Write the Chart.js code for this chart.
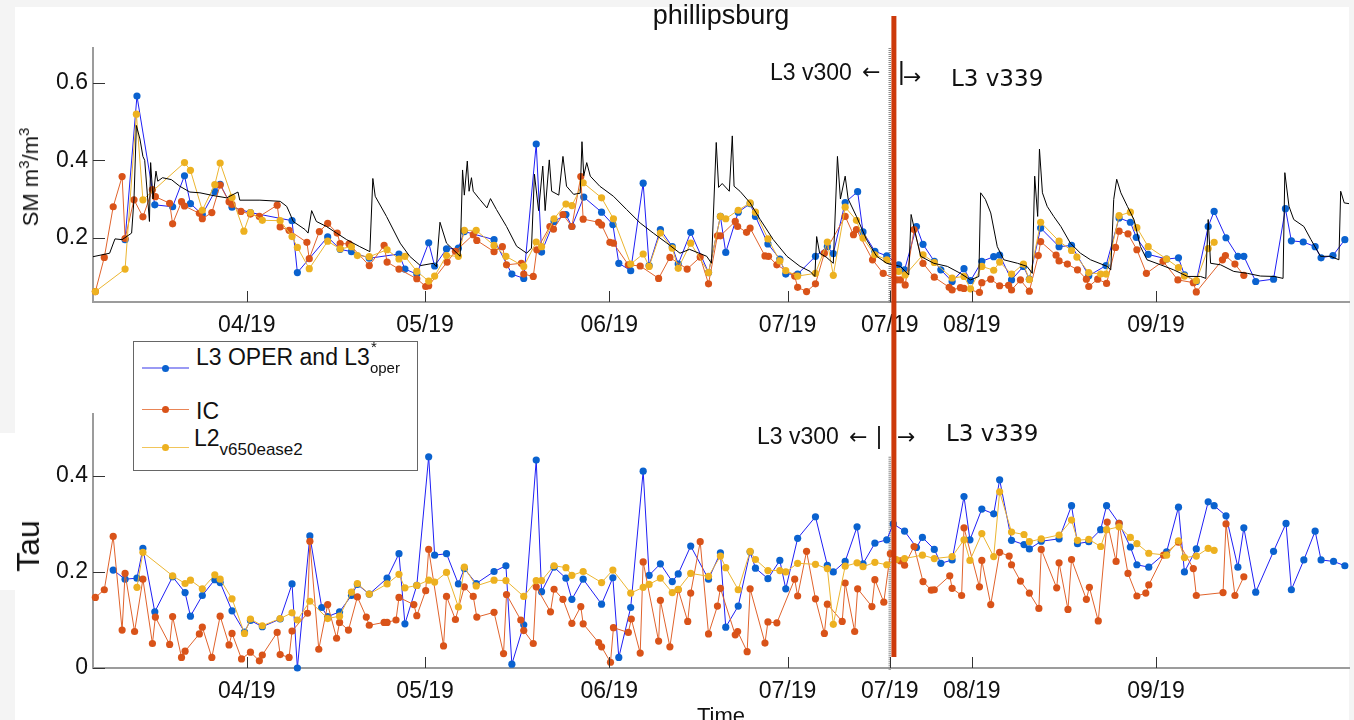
<!DOCTYPE html>
<html>
<head>
<meta charset="utf-8">
<script src="https://cdn.jsdelivr.net/npm/chart.js@4.4.1/dist/chart.umd.min.js"></script>
<style>
  body { margin: 0; background: #f4f4f4; }
  #page { position: relative; width: 1354px; height: 720px; overflow: hidden;
          font-family: "Liberation Sans", Arial, sans-serif; color: #111; }
  .sheet { position: absolute; background: #fff; }
  canvas { position: absolute; left: 0; top: 0; }
  .txt { position: absolute; white-space: nowrap; line-height: 1; }
  .dv { font-family: "DejaVu Sans", sans-serif; }
  .legend-box { position: absolute; left: 133px; top: 341px; width: 285px; height: 130px;
                box-sizing: border-box; border: 1px solid #666; background: #fff; }
  .lg-line { position: absolute; left: 142px; width: 47px; }
  .lg-dot { position: absolute; width: 7px; height: 7px; border-radius: 50%; left: 161.5px; }
</style>
</head>
<body>
<div id="page">
  <div class="sheet" style="left:15px; top:7px; width:1334px; height:713px;"></div>
  <div class="sheet" style="left:0; top:433px; width:15px; height:157px;"></div>

  <canvas id="smChart" width="1354" height="720"></canvas>
  <canvas id="tauChart" width="1354" height="720"></canvas>

  <!-- titles -->
  <div class="txt" style="left:721px; top:2px; font-size:27px; transform:translateX(-50%);">phillipsburg</div>
  <div class="txt" style="left:29px; top:177px; font-size:22px; transform:translate(-50%,-50%) rotate(-90deg);">SM m<span style="font-size:15px; vertical-align:9px;">3</span>/m<span style="font-size:15px; vertical-align:9px;">3</span></div>
  <div class="txt" style="left:28px; top:546px; font-size:32px; transform:translate(-50%,-50%) rotate(-90deg);">Tau</div>
  <div class="txt" style="left:721px; top:705px; font-size:22px; transform:translateX(-50%);">Time</div>

  <!-- version annotations, top panel -->
  <div class="txt" style="left:770px; top:60.5px; font-size:23px;">L3 v300</div>
  <div class="txt dv" style="left:862px; top:61px; font-size:22px;">←</div>
  <div class="txt" style="left:898px; top:58px; font-size:26px;">|</div>
  <div class="txt dv" style="left:903px; top:66px; font-size:22px;">→</div>
  <div class="txt dv" style="left:951px; top:66.5px; font-size:23px;">L3 v339</div>

  <!-- version annotations, bottom panel -->
  <div class="txt" style="left:757px; top:424.5px; font-size:23px;">L3 v300</div>
  <div class="txt dv" style="left:849px; top:426px; font-size:22px;">←</div>
  <div class="txt" style="left:876px; top:425px; font-size:23px;">|</div>
  <div class="txt dv" style="left:897px; top:426px; font-size:22px;">→</div>
  <div class="txt dv" style="left:946px; top:422px; font-size:23px;">L3 v339</div>

  <!-- legend -->
  <div class="legend-box"></div>
  <div class="lg-line" style="top:367px; height:2px; background:#9a9af4;"></div>
  <div class="lg-dot" style="top:364.5px; background:#0a62cf;"></div>
  <div class="txt" style="left:196px; top:345.5px; font-size:23px;">L3 OPER and L3<span style="position:relative; display:inline-block; width:40px;"><span style="position:absolute; left:1px; top:-26px; font-size:15px;">*</span><span style="position:absolute; left:0; top:-5px; font-size:15px;">oper</span></span></div>

  <div class="lg-line" style="top:409px; height:1px; background:#e98556;"></div>
  <div class="lg-dot" style="top:406px; background:#d95319;"></div>
  <div class="txt" style="left:196px; top:399.5px; font-size:23px;">IC</div>

  <div class="lg-line" style="top:447px; height:1px; background:#f1c55a;"></div>
  <div class="lg-dot" style="top:444px; background:#edb120;"></div>
  <div class="txt" style="left:194px; top:426.8px; font-size:23px;">L2<span style="position:relative; display:inline-block; width:95px;"><span style="position:absolute; left:0; top:-4.7px; font-size:17px;">v650ease2</span></span></div>
</div>

<script>
// x values are day of year 2019
const xMin = 65.1;
const xMax = 276.5;
const xTickDays = [91, 121, 152, 182, 199.2, 213, 244];
const xTickLabels = ["04/19", "05/19", "06/19", "07/19", "07/19", "08/19", "09/19"];
const versionSwitchDay = 199.2;
const redLineDay = 199.9;

const smTicks = [0.2, 0.4, 0.6];
const smTickLabels = ["0.2", "0.4", "0.6"];
const tauTicks = [0, 0.2, 0.4];
const tauTickLabels = ["0", "0.2", "0.4"];

// soil moisture, in situ (black)
const smInsitu = [[65.1,0.151],[67.9,0.160],[68.8,0.197],[70.0,0.195],[71.6,0.212],[72.0,0.300],[72.4,0.490],[73.0,0.455],[73.5,0.410],[73.8,0.400],[74.6,0.242],[74.8,0.394],[75.2,0.300],[75.7,0.372],[76.0,0.346],[76.8,0.355],[78.3,0.350],[79.7,0.333],[81.4,0.318],[83.1,0.316],[85.3,0.309],[87.6,0.303],[89.5,0.318],[89.8,0.297],[93.2,0.297],[96.6,0.294],[97.7,0.281],[98.2,0.264],[98.8,0.242],[100.8,0.221],[101.3,0.212],[101.9,0.270],[102.7,0.242],[104.4,0.229],[106.1,0.212],[107.8,0.195],[110.0,0.177],[111.7,0.164],[112.2,0.353],[112.6,0.307],[114.5,0.255],[116.8,0.186],[118.4,0.152],[120.2,0.128],[122.4,0.134],[122.9,0.125],[123.5,0.240],[124.6,0.186],[126.9,0.152],[127.3,0.375],[127.6,0.310],[128.1,0.398],[128.4,0.320],[128.8,0.355],[129.1,0.320],[130.2,0.299],[131.4,0.277],[132.0,0.301],[133.0,0.273],[134.7,0.229],[136.4,0.178],[138.1,0.160],[138.9,0.173],[139.4,0.364],[140.1,0.270],[140.8,0.385],[141.2,0.270],[141.9,0.401],[142.3,0.320],[143.5,0.310],[144.2,0.410],[144.8,0.333],[146.0,0.312],[147.1,0.315],[147.4,0.448],[147.7,0.360],[148.2,0.394],[148.8,0.359],[150.4,0.333],[152.7,0.307],[154.9,0.273],[157.2,0.238],[159.4,0.212],[161.7,0.186],[163.9,0.160],[165.5,0.170],[168.4,0.152],[169.2,0.134],[170.0,0.446],[170.4,0.330],[171.0,0.340],[172.2,0.320],[172.7,0.463],[173.0,0.333],[174.0,0.320],[175.7,0.290],[177.4,0.247],[179.6,0.195],[181.9,0.152],[184.1,0.126],[185.8,0.113],[186.6,0.100],[186.9,0.203],[187.4,0.160],[188.5,0.150],[189.7,0.134],[190.4,0.410],[190.9,0.300],[191.7,0.359],[192.2,0.300],[193.6,0.255],[195.3,0.195],[197.0,0.152],[198.7,0.134],[201.0,0.126],[202.4,0.104],[202.8,0.260],[203.5,0.212],[204.4,0.152],[206.6,0.134],[208.9,0.126],[211.1,0.108],[212.8,0.091],[214.2,0.100],[214.5,0.316],[215.3,0.299],[216.2,0.264],[217.3,0.177],[218.4,0.143],[220.7,0.134],[222.3,0.126],[223.2,0.108],[223.6,0.359],[224.1,0.255],[224.4,0.429],[224.9,0.316],[225.7,0.281],[226.8,0.255],[228.0,0.229],[229.6,0.186],[231.3,0.160],[233.0,0.143],[235.8,0.126],[236.4,0.117],[236.9,0.299],[237.4,0.351],[238.1,0.316],[239.2,0.281],[240.3,0.247],[241.4,0.177],[242.5,0.143],[244.8,0.130],[247.0,0.117],[249.3,0.100],[251.5,0.100],[252.4,0.095],[252.8,0.247],[253.2,0.134],[254.9,0.130],[257.1,0.113],[259.4,0.108],[261.6,0.101],[263.9,0.100],[265.4,0.095],[265.7,0.368],[266.4,0.281],[267.2,0.247],[268.9,0.229],[270.1,0.195],[271.7,0.152],[273.4,0.152],[274.8,0.143],[275.1,0.320],[275.7,0.290],[276.5,0.288]];

// soil moisture, L3 OPER (blue)
const smL3 = [[70.5,0.195],[72.5,0.566],[75.5,0.285],[78.5,0.280],[80.5,0.360],[81.5,0.288],[83.5,0.260],[85.6,0.319],[86.5,0.338],[88.5,0.279],[91.6,0.265],[98.6,0.244],[99.5,0.110],[104.6,0.202],[106.7,0.170],[108.6,0.164],[111.6,0.147],[116.6,0.158],[117.6,0.119],[119.6,0.106],[121.6,0.187],[122.6,0.127],[124.6,0.171],[126.6,0.173],[127.6,0.216],[132.6,0.195],[135.6,0.106],[137.6,0.095],[139.7,0.442],[140.6,0.163],[142.7,0.242],[144.7,0.260],[145.7,0.229],[147.7,0.305],[150.7,0.266],[152.6,0.234],[153.6,0.134],[155.6,0.115],[157.7,0.341],[158.7,0.128],[160.6,0.221],[162.6,0.177],[163.6,0.132],[165.7,0.214],[168.7,0.110],[170.7,0.255],[171.6,0.162],[173.7,0.266],[175.7,0.288],[176.6,0.255],[178.7,0.184],[180.7,0.145],[181.7,0.106],[183.7,0.106],[186.7,0.152],[188.7,0.177],[189.7,0.159],[191.7,0.291],[193.8,0.319],[194.7,0.215],[196.7,0.165],[198.7,0.153],[200.7,0.130],[201.7,0.117],[203.7,0.229],[204.8,0.183],[206.7,0.139],[207.8,0.117],[209.7,0.087],[211.7,0.120],[212.8,0.089],[214.7,0.139],[216.7,0.151],[217.7,0.155],[219.7,0.091],[221.7,0.126],[222.7,0.093],[224.6,0.225],[227.7,0.177],[229.8,0.180],[232.7,0.102],[235.6,0.128],[237.8,0.251],[239.7,0.240],[240.7,0.201],[242.7,0.157],[245.8,0.145],[247.8,0.148],[248.8,0.104],[250.8,0.087],[252.8,0.229],[253.8,0.268],[255.8,0.200],[257.8,0.152],[258.8,0.152],[260.8,0.087],[263.8,0.093],[265.8,0.275],[266.8,0.192],[268.8,0.189],[270.8,0.177],[271.8,0.148],[273.8,0.154],[275.8,0.195]];

// soil moisture, IC (orange)
const smIC = [[65.5,0.061],[67.0,0.149],[68.5,0.280],[70.0,0.358],[70.5,0.198],[72.0,0.298],[73.5,0.254],[75.1,0.324],[75.6,0.306],[78.0,0.289],[78.5,0.236],[80.0,0.293],[80.5,0.282],[83.0,0.263],[83.5,0.249],[85.1,0.265],[86.5,0.336],[88.0,0.293],[88.5,0.286],[90.0,0.268],[91.6,0.261],[93.1,0.255],[96.1,0.284],[96.6,0.228],[98.1,0.219],[101.1,0.188],[101.5,0.146],[103.2,0.216],[104.6,0.237],[106.2,0.212],[106.7,0.185],[108.2,0.184],[111.6,0.128],[114.1,0.180],[114.6,0.137],[116.6,0.119],[119.6,0.094],[121.1,0.074],[121.6,0.076],[124.7,0.137],[126.1,0.165],[129.1,0.208],[129.7,0.193],[132.6,0.164],[134.0,0.177],[134.7,0.130],[137.2,0.134],[137.6,0.106],[139.2,0.100],[139.8,0.169],[142.0,0.229],[142.6,0.222],[144.2,0.260],[145.7,0.229],[147.2,0.358],[147.6,0.248],[150.2,0.240],[150.7,0.233],[152.1,0.188],[152.7,0.186],[155.2,0.130],[157.2,0.127],[160.3,0.095],[162.2,0.149],[165.1,0.119],[167.3,0.150],[168.7,0.081],[170.2,0.205],[170.7,0.205],[173.2,0.242],[173.6,0.229],[175.1,0.214],[175.7,0.225],[178.2,0.153],[178.8,0.152],[180.2,0.130],[183.2,0.101],[183.7,0.072],[185.2,0.061],[186.7,0.081],[188.2,0.160],[191.7,0.255],[193.1,0.208],[193.6,0.221],[196.3,0.143],[198.1,0.108],[200.4,0.091],[201.0,0.091],[201.8,0.078],[203.3,0.221],[204.8,0.134],[206.7,0.098],[209.2,0.072],[209.7,0.065],[211.1,0.071],[211.7,0.069],[214.3,0.059],[214.7,0.084],[216.2,0.093],[217.7,0.076],[219.2,0.077],[219.7,0.065],[221.2,0.091],[222.7,0.062],[224.2,0.154],[224.6,0.190],[227.2,0.155],[227.7,0.140],[229.1,0.132],[230.8,0.117],[232.3,0.093],[232.7,0.074],[234.2,0.093],[235.7,0.082],[237.2,0.175],[237.8,0.217],[239.3,0.210],[240.8,0.169],[242.4,0.108],[245.2,0.139],[247.7,0.091],[250.3,0.084],[250.8,0.060],[255.2,0.143],[255.7,0.154],[257.3,0.132],[258.8,0.103]];

// soil moisture, L2 v650 (yellow)
const smL2 = [[65.5,0.061],[70.5,0.119],[72.4,0.519],[73.5,0.298],[80.5,0.394],[81.5,0.374],[83.5,0.271],[85.6,0.337],[86.5,0.393],[88.5,0.304],[90.5,0.217],[91.6,0.265],[93.6,0.245],[96.6,0.244],[98.6,0.203],[99.5,0.175],[101.5,0.120],[104.6,0.191],[106.7,0.171],[108.6,0.177],[109.6,0.154],[111.6,0.151],[114.6,0.169],[116.6,0.145],[117.6,0.152],[119.6,0.113],[121.6,0.088],[122.6,0.101],[124.6,0.154],[126.6,0.152],[127.6,0.219],[129.6,0.219],[132.6,0.180],[134.6,0.152],[137.6,0.126],[139.7,0.189],[140.6,0.177],[142.7,0.249],[144.7,0.287],[145.7,0.283],[147.6,0.342],[150.7,0.303],[152.7,0.249],[155.6,0.132],[157.7,0.158],[158.7,0.126],[160.6,0.212],[162.6,0.173],[163.6,0.121],[165.7,0.186],[168.7,0.110],[170.7,0.255],[171.6,0.249],[173.7,0.271],[175.7,0.290],[176.6,0.266],[178.7,0.197],[180.7,0.140],[181.7,0.115],[183.7,0.101],[186.7,0.108],[188.7,0.189],[189.7,0.103],[191.7,0.279],[193.6,0.245],[194.7,0.199],[196.7,0.156],[198.7,0.143],[200.7,0.113],[201.8,0.104],[204.8,0.156],[206.7,0.136],[209.7,0.096],[211.7,0.100],[212.8,0.068],[214.7,0.126],[216.7,0.116],[217.7,0.137],[219.7,0.106],[221.7,0.132],[222.7,0.092],[224.6,0.240],[227.7,0.191],[229.8,0.167],[230.7,0.150],[232.7,0.110],[234.7,0.106],[235.6,0.106],[237.8,0.257],[239.7,0.266],[240.8,0.226],[242.7,0.177],[245.8,0.145],[247.8,0.123],[248.8,0.101],[250.8,0.089],[252.8,0.172],[253.8,0.188]];

// tau, L3 OPER (blue)
const tauL3 = [[68.5,0.204],[70.5,0.185],[72.5,0.187],[73.5,0.249],[75.5,0.117],[78.5,0.190],[80.6,0.157],[81.5,0.108],[83.5,0.151],[85.6,0.184],[86.5,0.178],[88.5,0.119],[90.6,0.075],[91.6,0.099],[93.6,0.086],[96.6,0.102],[98.6,0.175],[99.5,0.000],[101.6,0.275],[103.6,0.126],[104.6,0.107],[106.6,0.117],[108.6,0.151],[109.6,0.174],[111.6,0.154],[114.6,0.187],[116.6,0.238],[117.6,0.092],[119.6,0.172],[121.6,0.440],[122.6,0.235],[124.6,0.238],[126.6,0.175],[127.6,0.207],[129.6,0.176],[132.6,0.201],[134.6,0.213],[135.6,0.008],[137.6,0.090],[139.7,0.433],[140.6,0.159],[142.7,0.210],[144.7,0.187],[145.7,0.143],[147.6,0.185],[150.7,0.133],[152.6,0.188],[153.6,0.022],[155.6,0.126],[157.7,0.410],[158.7,0.193],[160.6,0.217],[162.6,0.180],[163.6,0.196],[165.7,0.254],[168.7,0.185],[170.7,0.240],[171.6,0.085],[173.7,0.129],[175.7,0.242],[176.6,0.208],[178.7,0.186],[180.7,0.224],[181.7,0.165],[183.7,0.270],[186.7,0.315],[188.7,0.214],[189.7,0.200],[191.7,0.222],[193.7,0.294],[194.7,0.217],[196.7,0.260],[198.7,0.267],[199.8,0.300],[201.7,0.285],[203.7,0.251],[204.7,0.272],[206.7,0.247],[207.8,0.218],[209.7,0.225],[211.7,0.357],[212.7,0.267],[214.7,0.331],[216.7,0.321],[217.7,0.392],[219.7,0.266],[221.8,0.257],[222.7,0.248],[224.7,0.264],[227.7,0.269],[229.8,0.338],[230.8,0.259],[232.7,0.263],[234.7,0.288],[235.7,0.338],[237.8,0.301],[239.7,0.252],[240.8,0.215],[242.8,0.210],[245.8,0.242],[247.8,0.335],[248.8,0.200],[250.8,0.248],[252.8,0.346],[253.8,0.338],[255.8,0.317],[257.8,0.210],[258.8,0.292],[260.8,0.158],[263.8,0.243],[265.9,0.301],[266.8,0.163],[268.9,0.225],[270.8,0.285],[271.8,0.225],[273.9,0.222],[275.8,0.213]];

// tau, IC (orange)
const tauIC = [[65.5,0.147],[67.0,0.163],[68.5,0.274],[70.0,0.079],[70.5,0.197],[72.1,0.076],[73.5,0.185],[75.1,0.051],[75.6,0.106],[78.0,0.049],[78.5,0.107],[80.0,0.022],[80.6,0.035],[83.0,0.071],[83.5,0.085],[85.1,0.022],[86.5,0.108],[88.0,0.048],[88.5,0.072],[90.1,0.019],[91.6,0.033],[93.1,0.015],[93.6,0.027],[96.1,0.074],[96.6,0.028],[98.1,0.022],[98.6,0.077],[101.2,0.114],[101.6,0.264],[103.1,0.039],[104.6,0.132],[106.1,0.062],[106.6,0.095],[108.1,0.079],[109.6,0.148],[111.1,0.106],[111.6,0.089],[114.1,0.095],[114.6,0.095],[116.1,0.100],[116.6,0.147],[119.1,0.132],[119.6,0.109],[121.1,0.161],[121.6,0.247],[124.1,0.046],[124.6,0.149],[126.1,0.101],[127.6,0.169],[129.1,0.149],[129.7,0.106],[132.6,0.116],[134.2,0.030],[134.7,0.153],[137.1,0.100],[137.6,0.078],[139.2,0.051],[139.7,0.169],[142.1,0.117],[142.7,0.164],[144.2,0.143],[145.7,0.093],[147.2,0.128],[147.6,0.092],[150.2,0.053],[150.7,0.044],[152.2,0.012],[152.7,0.084],[155.2,0.074],[155.7,0.102],[157.2,0.031],[157.7,0.221],[160.3,0.056],[160.6,0.141],[162.2,0.044],[163.6,0.163],[165.2,0.097],[165.7,0.156],[167.3,0.263],[168.7,0.071],[170.2,0.129],[170.7,0.166],[173.2,0.069],[173.6,0.076],[175.2,0.034],[175.7,0.165],[178.2,0.052],[178.7,0.096],[180.2,0.094],[183.2,0.185],[183.7,0.150],[185.2,0.243],[186.7,0.144],[188.2,0.072],[188.7,0.133],[191.2,0.097],[191.7,0.177],[193.3,0.076],[193.8,0.165],[196.2,0.128],[196.7,0.184],[198.2,0.137],[199.3,0.238],[201.0,0.223],[201.7,0.214],[203.3,0.253],[204.8,0.180],[206.2,0.162],[206.7,0.163],[209.3,0.192],[209.7,0.166],[211.3,0.151],[211.7,0.292],[214.3,0.169],[214.7,0.224],[216.2,0.132],[217.7,0.241],[219.3,0.233],[219.7,0.215],[221.2,0.181],[222.7,0.156],[224.3,0.124],[224.7,0.247],[227.3,0.167],[227.7,0.219],[229.2,0.122],[229.8,0.226],[232.3,0.143],[232.8,0.168],[234.3,0.098],[235.8,0.304],[237.3,0.222],[237.8,0.301],[239.3,0.197],[240.8,0.150],[242.3,0.156],[242.8,0.173],[245.3,0.235],[247.8,0.262],[250.3,0.207],[250.8,0.151],[255.3,0.157],[255.8,0.300],[257.3,0.151],[258.8,0.190]];

// tau, L2 v650 (yellow)
const tauL2 = [[72.5,0.168],[73.5,0.241],[78.5,0.192],[80.6,0.176],[81.5,0.183],[83.5,0.165],[85.6,0.194],[86.5,0.185],[88.5,0.144],[90.6,0.072],[91.6,0.102],[93.6,0.088],[96.6,0.103],[98.6,0.115],[99.5,0.100],[101.6,0.139],[104.6,0.103],[106.6,0.108],[108.6,0.158],[109.6,0.176],[111.6,0.154],[114.6,0.175],[116.6,0.195],[117.6,0.167],[119.6,0.172],[121.6,0.183],[122.6,0.179],[124.6,0.199],[126.6,0.127],[127.6,0.210],[129.6,0.171],[132.6,0.183],[134.6,0.182],[137.6,0.149],[139.7,0.182],[140.6,0.182],[142.7,0.213],[144.7,0.209],[145.7,0.193],[147.6,0.201],[150.7,0.178],[152.6,0.204],[155.6,0.156],[157.7,0.168],[158.7,0.174],[160.6,0.187],[162.6,0.157],[163.6,0.164],[165.7,0.197],[168.7,0.191],[170.7,0.233],[171.6,0.209],[173.7,0.163],[175.7,0.243],[176.6,0.226],[178.7,0.203],[180.7,0.203],[181.7,0.200],[183.7,0.218],[186.7,0.216],[188.7,0.207],[189.7,0.091],[191.7,0.212],[193.7,0.219],[194.7,0.211],[196.7,0.220],[198.7,0.215],[200.3,0.226],[201.7,0.228],[204.7,0.235],[206.7,0.228],[209.7,0.232],[211.7,0.267],[212.7,0.224],[214.7,0.280],[216.7,0.232],[217.7,0.367],[219.7,0.283],[221.8,0.278],[222.7,0.263],[224.7,0.269],[227.7,0.277],[229.8,0.308],[230.8,0.266],[232.7,0.268],[234.7,0.253],[235.7,0.288],[237.8,0.294],[239.7,0.272],[240.8,0.259],[242.8,0.239],[245.8,0.235],[247.8,0.265],[248.8,0.230],[250.8,0.233],[252.8,0.249],[253.8,0.245]];

const toXY = arr => arr.map(([x, y]) => ({ x, y }));
const FONT = "'Liberation Sans', Arial, sans-serif";

// small inward tick marks, like matlab axes
const inwardTicks = {
  id: "inwardTicks",
  afterDraw(chart) {
    const { ctx, chartArea: a, scales: { x, y } } = chart;
    ctx.save();
    ctx.strokeStyle = "#333";
    ctx.lineWidth = 1;
    ctx.beginPath();
    y.ticks.forEach(t => {
      const py = Math.round(y.getPixelForValue(t.value)) + 0.5;
      ctx.moveTo(a.left, py); ctx.lineTo(a.left + 12, py);
    });
    x.ticks.forEach(t => {
      const px = Math.round(x.getPixelForValue(t.value)) + 0.5;
      ctx.moveTo(px, a.bottom); ctx.lineTo(px, a.bottom - 11);
    });
    ctx.stroke();
    ctx.restore();
  }
};

// grey dotted line at the version switch
function switchLine(topValue) {
  return {
    id: "switchLine",
    beforeDatasetsDraw(chart) {
      const { ctx, chartArea: a, scales: { x, y } } = chart;
      const px = x.getPixelForValue(versionSwitchDay);
      const top = topValue == null ? a.top : y.getPixelForValue(topValue);
      ctx.save();
      ctx.strokeStyle = "#8a8a8a";
      ctx.lineWidth = 2.5;
      ctx.setLineDash([1, 1]);
      ctx.beginPath();
      ctx.moveTo(px, top); ctx.lineTo(px, a.bottom + 2);
      ctx.stroke();
      ctx.restore();
    }
  };
}

// thick red divider crossing both panels
const redDivider = {
  id: "redDivider",
  afterDraw(chart) {
    const { ctx, scales: { x } } = chart;
    const px = x.getPixelForValue(redLineDay);
    ctx.save();
    ctx.fillStyle = "#cd3a0b";
    ctx.fillRect(px - 2.5, 16, 5, 641);
    ctx.restore();
  }
};

function xScale() {
  return {
    type: "linear", min: xMin, max: xMax,
    afterBuildTicks: s => { s.ticks = xTickDays.map(v => ({ value: v })); },
    afterFit: s => { s.height = 40; },
    ticks: {
      autoSkip: false, maxRotation: 0, padding: 10, color: "#111",
      font: { family: FONT, size: 23 },
      callback: (v, i) => xTickLabels[i]
    },
    grid: { display: false, drawTicks: false },
    border: { display: true, color: "#9c9c9c", width: 2 }
  };
}

function yScale(min, max, ticks, labels) {
  return {
    min, max,
    afterBuildTicks: s => { s.ticks = ticks.map(v => ({ value: v })); },
    afterFit: s => { s.width = 93; },
    ticks: {
      padding: 5, color: "#111",
      font: { family: FONT, size: 23 },
      callback: (v, i) => labels[i]
    },
    grid: { display: false, drawTicks: false },
    border: { display: true, color: "#9c9c9c", width: 2 }
  };
}

function series(data, line, dot, order, lw) {
  return {
    data: toXY(data), borderColor: line, borderWidth: lw || 1,
    pointRadius: 3.6, pointBackgroundColor: dot, pointBorderWidth: 0,
    pointHoverRadius: 3.6, tension: 0, order, clip: false
  };
}

const common = {
  responsive: false, animation: false, devicePixelRatio: 1,
  plugins: { legend: { display: false }, tooltip: { enabled: false } },
  events: []
};

new Chart(document.getElementById("smChart").getContext("2d"), {
  type: "line",
  data: {
    datasets: [
      { data: toXY(smInsitu), borderColor: "#000", borderWidth: 1, pointRadius: 0, tension: 0, order: 0 },
      series(smL3, "#1f1ff5", "#0a62cf", 3),
      series(smIC, "#e0632c", "#d95319", 2),
      series(smL2, "#ebb530", "#edb120", 1)
    ]
  },
  options: {
    ...common,
    layout: { padding: { top: 48, right: 5, bottom: 378, left: 0 } },
    scales: { x: xScale(), y: yScale(0.034, 0.69, smTicks, smTickLabels) }
  },
  plugins: [inwardTicks, switchLine(null)]
});

new Chart(document.getElementById("tauChart").getContext("2d"), {
  type: "line",
  data: {
    datasets: [
      series(tauL3, "#1f1ff5", "#0a62cf", 3),
      series(tauIC, "#e0632c", "#d95319", 2),
      series(tauL2, "#ebb530", "#edb120", 1)
    ]
  },
  options: {
    ...common,
    layout: { padding: { top: 414, right: 5, bottom: 12, left: 0 } },
    scales: { x: xScale(), y: yScale(0, 0.529, tauTicks, tauTickLabels) }
  },
  plugins: [inwardTicks, switchLine(0.44), redDivider]
});
</script>
</body>
</html>
